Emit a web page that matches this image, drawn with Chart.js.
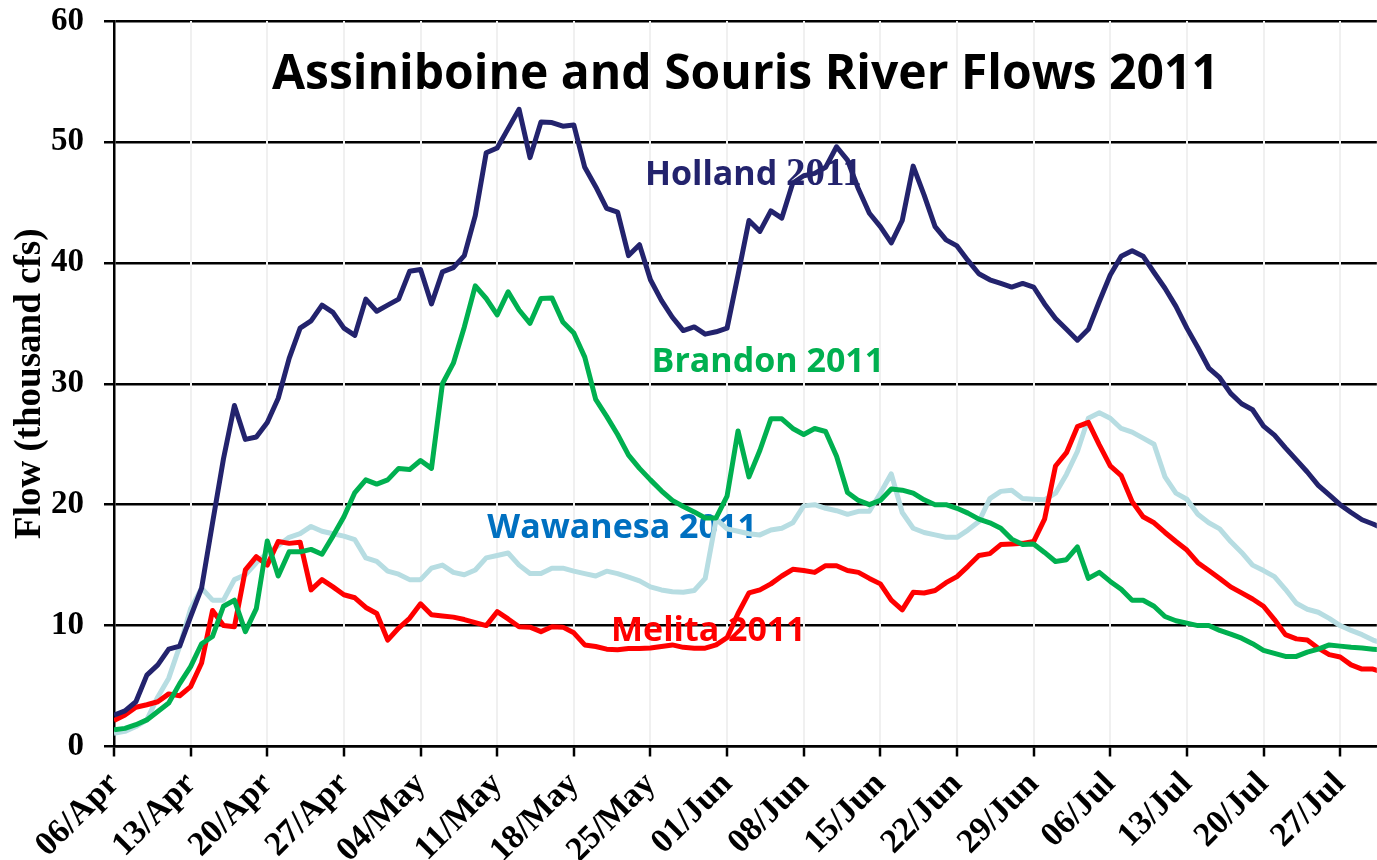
<!DOCTYPE html>
<html>
<head>
<meta charset="utf-8">
<title>Assiniboine and Souris River Flows 2011</title>
<script src="https://cdn.jsdelivr.net/npm/chart.js@4"></script>
<style>
	html, body { margin: 0; padding: 0; background: #fff; }
	#flows { display: block; }
</style>
</head>
<body>
<canvas id="flows" width="1377" height="860"></canvas>
<script>
// daily flows in thousand cfs, one value per day starting 06/Apr
let holland = [
	2.6, 2.95, 3.7, 5.9, 6.75, 8.05, 8.3, 10.75, 13.1, 18.5,
	23.8, 28.2, 25.4, 25.6, 26.8, 28.8, 32.1, 34.6, 35.2, 36.5,
	35.9, 34.6, 34.0, 37.0, 36.0, 36.5, 37.0, 39.3, 39.45, 36.6,
	39.25, 39.6, 40.6, 43.9, 49.1, 49.5, 51.1, 52.7, 48.7, 51.65,
	51.6, 51.3, 51.4, 47.9, 46.3, 44.5, 44.2, 40.6, 41.5, 38.6,
	36.9, 35.5, 34.4, 34.7, 34.1, 34.3, 34.6, 39.0, 43.5, 42.6,
	44.3, 43.7, 46.6, 47.2, 47.4, 47.9, 49.6, 48.5, 46.1, 44.1,
	43.0, 41.65, 43.5, 48.0, 45.6, 43.0, 41.9, 41.4, 40.2, 39.1,
	38.6, 38.3, 38.0, 38.3, 38.0, 36.6, 35.4, 34.5, 33.6, 34.5,
	36.8, 39.0, 40.55, 41.0, 40.55, 39.2, 37.9, 36.4, 34.6, 33.0,
	31.3, 30.5, 29.2, 28.35, 27.85, 26.5, 25.75, 24.7, 23.7, 22.7,
	21.6, 20.8, 20.0, 19.35, 18.75, 18.4, 18.0
];
let brandon = [
	1.38, 1.5, 1.8, 2.2, 2.9, 3.6, 5.2, 6.6, 8.5, 9.1,
	11.6, 12.1, 9.5, 11.4, 17.0, 14.1, 16.1, 16.1, 16.3, 15.9,
	17.4, 19.0, 21.0, 22.05, 21.7, 22.05, 23.0, 22.9, 23.65, 23.0,
	30.0, 31.7, 34.7, 38.1, 37.05, 35.7, 37.6, 36.1, 35.0, 37.05,
	37.1, 35.1, 34.2, 32.2, 28.7, 27.3, 25.8, 24.1, 23.0, 22.05,
	21.15, 20.35, 19.85, 19.4, 18.9, 18.9, 20.7, 26.1, 22.3, 24.5,
	27.1, 27.1, 26.3, 25.8, 26.3, 26.05, 24.0, 21.0, 20.35, 20.0,
	20.35, 21.3, 21.2, 20.95, 20.4, 20.0, 20.0, 19.7, 19.3, 18.8,
	18.5, 18.05, 17.15, 16.7, 16.75, 16.05, 15.3, 15.45, 16.5, 13.9,
	14.4, 13.65, 13.0, 12.1, 12.1, 11.6, 10.75, 10.4, 10.2, 10.0,
	10.0, 9.6, 9.3, 8.96, 8.5, 7.95, 7.7, 7.45, 7.45, 7.8,
	8.05, 8.4, 8.3, 8.2, 8.15, 8.05, 7.95
];
let wawanesa = [
	1.1, 1.25, 1.65, 2.2, 4.1, 5.65, 8.3, 11.4, 13.1, 12.1,
	12.1, 13.8, 14.2, 15.2, 16.0, 16.6, 17.3, 17.6, 18.2, 17.8,
	17.6, 17.4, 17.1, 15.6, 15.3, 14.5, 14.25, 13.8, 13.8, 14.75,
	15.0, 14.4, 14.2, 14.6, 15.6, 15.8, 16.0, 15.0, 14.3, 14.3,
	14.75, 14.75, 14.5, 14.3, 14.1, 14.5, 14.3, 14.0, 13.7, 13.2,
	12.95, 12.8, 12.75, 12.9, 13.9, 18.8, 18.0, 17.8, 17.6, 17.5,
	17.9, 18.05, 18.5, 19.9, 20.0, 19.7, 19.5, 19.2, 19.45, 19.45,
	20.95, 22.55, 19.35, 18.05, 17.7, 17.5, 17.3, 17.3, 17.9, 18.6,
	20.5, 21.1, 21.2, 20.5, 20.45, 20.4, 20.95, 22.5, 24.4, 27.15,
	27.6, 27.15, 26.3, 26.0, 25.5, 25.0, 22.3, 20.95, 20.45, 19.2,
	18.5, 18.0, 16.95, 16.05, 15.0, 14.55, 14.05, 13.0, 11.85, 11.35,
	11.1, 10.6, 10.0, 9.6, 9.25, 8.8, 8.5
];
let melita = [
	2.15, 2.6, 3.25, 3.45, 3.7, 4.35, 4.2, 4.95, 6.9, 11.25,
	10.0, 9.9, 14.6, 15.7, 15.0, 16.95, 16.8, 16.9, 12.95, 13.8,
	13.2, 12.55, 12.3, 11.5, 11.0, 8.8, 9.8, 10.6, 11.8, 10.9,
	10.8, 10.7, 10.5, 10.25, 10.0, 11.15, 10.55, 9.9, 9.87, 9.5,
	9.9, 9.87, 9.4, 8.4, 8.27, 8.05, 8.0, 8.1, 8.1, 8.15,
	8.27, 8.4, 8.2, 8.13, 8.13, 8.4, 9.0, 11.0, 12.7, 12.95,
	13.45, 14.1, 14.65, 14.55, 14.4, 14.95, 14.95, 14.55, 14.4, 13.9,
	13.45, 12.1, 11.3, 12.75, 12.7, 12.9, 13.55, 14.05, 14.9, 15.8,
	15.95, 16.7, 16.75, 16.8, 16.95, 18.8, 23.2, 24.3, 26.45, 26.8,
	24.95, 23.2, 22.4, 20.25, 19.0, 18.5, 17.7, 16.95, 16.25, 15.2,
	14.55, 13.9, 13.2, 12.7, 12.2, 11.6, 10.5, 9.25, 8.9, 8.8,
	8.13, 7.6, 7.4, 6.75, 6.4, 6.4, 6.1
];

// one tick per week
let weekLabels = [
	"06/Apr", "13/Apr", "20/Apr", "27/Apr", "04/May", "11/May", "18/May",
	"25/May", "01/Jun", "08/Jun", "15/Jun", "22/Jun", "29/Jun", "06/Jul",
	"13/Jul", "20/Jul", "27/Jul"
];

let yTicks = [0, 10, 20, 30, 40, 50, 60];

// station names written next to their lines
let stationNames = ["Holland", "Brandon", "Wawanesa", "Melita"];
let stationColors = ["#23236d", "#00b050", "#b7dde2", "#ff0000"];
let labelColors = ["#23236d", "#00b050", "#0070c0", "#ff0000"];
let labelDay = [48.5, 49.1, 34.1, 45.4];
let labelFlow = [46.45, 31.0, 17.25, 8.75];

let chartTitle = "Assiniboine and Souris River Flows 2011";
let yTitle = "Flow (thousand cfs)";

const serif = "'Liberation Serif', 'Times New Roman', serif";
const sans = "'Open Sans', 'Noto Sans', sans-serif";

function toPoints(values) {
	return values.map((v, i) => ({ x: i, y: v }));
}

function makeDataset(name, values, color) {
	return {
		label: name + " 2011",
		data: toPoints(values),
		borderColor: color,
		backgroundColor: color,
		borderWidth: 5,
		borderJoinStyle: "round",
		pointRadius: 0,
		tension: 0,
		fill: false
	};
}

// title and in-plot line names, drawn under the lines
const textPlugin = {
	id: "flowText",
	beforeDatasetsDraw(chart) {
		let ctx = chart.ctx;
		let area = chart.chartArea;
		let xs = chart.scales.x;
		let ys = chart.scales.y;

		ctx.save();
		ctx.fillStyle = "#000";
		ctx.textAlign = "center";
		ctx.textBaseline = "alphabetic";
		ctx.font = "bold 48px " + sans;
		ctx.fillText(chartTitle, (area.left + area.right) / 2, area.top + 68);

		ctx.textAlign = "left";
		for (let i = 0; i < stationNames.length; i++) {
			let x = xs.getPixelForValue(labelDay[i]);
			let y = ys.getPixelForValue(labelFlow[i]);
			ctx.fillStyle = labelColors[i];
			ctx.font = "bold 34px " + sans;
			let name = stationNames[i] + " ";
			ctx.fillText(name, x, y);
			let w = ctx.measureText(name).width;
			// the Holland year is set in the serif face
			if (i == 0) { ctx.font = "bold 39px " + serif; }
			ctx.fillText("2011", x + w, y);
		}
		ctx.restore();
	}
};

new Chart(document.getElementById("flows"), {
	type: "line",
	data: {
		datasets: [
			makeDataset(stationNames[0], holland, stationColors[0]),
			makeDataset(stationNames[1], brandon, stationColors[1]),
			makeDataset(stationNames[3], melita, stationColors[3]),
			makeDataset(stationNames[2], wawanesa, stationColors[2])
		]
	},
	options: {
		responsive: false,
		animation: false,
		layout: { padding: 0 },
		plugins: {
			legend: { display: false },
			tooltip: { enabled: false }
		},
		scales: {
			y: {
				min: 0,
				max: 60,
				afterFit(scale) {
					// fixed plot box: 114px gutter, 21px above the top line
					scale.width = 114;
					scale.paddingTop = 21;
					scale.paddingBottom = 0;
				},
				afterBuildTicks(scale) {
					scale.ticks = yTicks.map((v) => ({ value: v }));
				},
				ticks: {
					color: "#000",
					padding: 20,
					font: { family: serif, size: 33, weight: "bold" }
				},
				grid: {
					color: "#000",
					lineWidth: 2.5,
					tickLength: 10,
					tickColor: "#000",
					tickWidth: 2.5
				},
				border: { color: "#000", width: 2.5 },
				title: {
					display: true,
					text: yTitle,
					color: "#000",
					padding: { top: 8, bottom: 0 },
					font: { family: serif, size: 37, weight: "bold" }
				}
			},
			x: {
				type: "linear",
				min: 0,
				max: 115.35,
				afterFit(scale) { scale.height = 113.5; },
				afterBuildTicks(scale) {
					scale.ticks = weekLabels.map((l, i) => ({ value: i * 7 }));
				},
				ticks: {
					color: "#000",
					autoSkip: false,
					maxRotation: 45,
					minRotation: 45,
					padding: 8,
					font: { family: serif, size: 34, weight: "bold" },
					callback: (value) => weekLabels[Math.round(value / 7)]
				},
				grid: {
					color: "#f0f0f0",
					lineWidth: 2,
					tickLength: 10,
					tickColor: "#000",
					tickWidth: 2.5
				},
				border: { color: "#000", width: 2.5 }
			}
		}
	},
	plugins: [textPlugin]
});
</script>
</body>
</html>
